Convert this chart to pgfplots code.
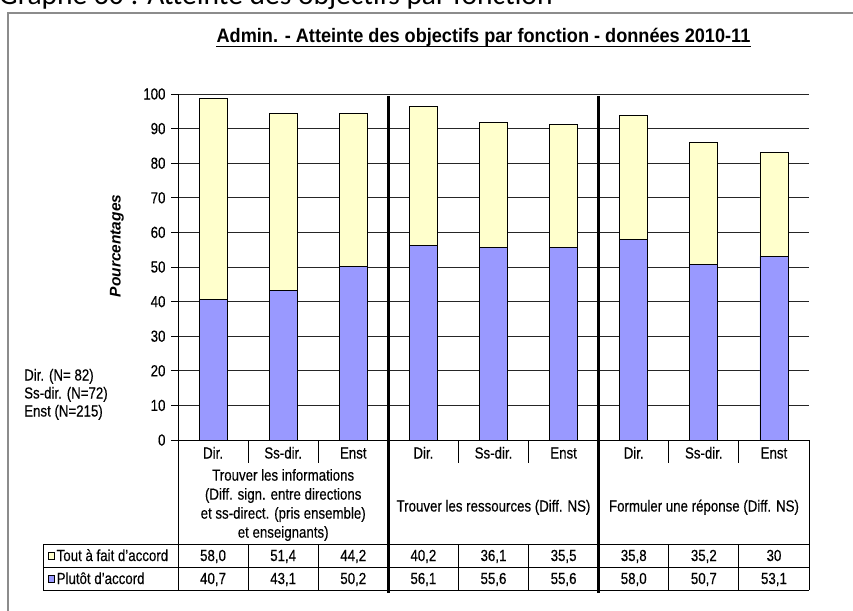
\documentclass[border=0pt]{standalone}
\usepackage{pgfplots}
\usepackage{pgfplotstable}
\pgfplotsset{compat=1.18}
\usepackage{fontspec}
\setmainfont[FakeStretch=0.83,FakeBold=0.35]{Liberation Sans}
\newfontfamily\titlefont[FakeStretch=0.93]{Liberation Sans}
\newfontfamily\plainarial{Liberation Sans}
\newfontfamily\grfont{Carlito}
\definecolor{blueb}{HTML}{9999FF}
\definecolor{yellowb}{HTML}{FFFFCC}
\definecolor{framegray}{HTML}{8C8C8C}

\pgfplotstableread{
x pl tf
0 40.7 58.0
1 43.1 51.4
2 50.2 44.2
3 56.1 40.2
4 55.6 36.1
5 55.6 35.5
6 58.0 35.8
7 50.7 35.2
8 53.1 30
}\datatable

\begin{document}
\fontsize{16pt}{19pt}\selectfont
\begin{tikzpicture}
\path[use as bounding box, clip] (0pt,0pt) rectangle (853pt,-610pt);
\begin{scope}[x=1pt,y=1pt]
  \node[anchor=base west, inner sep=0] at (-1,-5) {\grfont\fontsize{29.5pt}{32pt}\selectfont Graphe 30 : Atteinte des objectifs par fonction};
  \draw[framegray, line width=1.2pt] (8,-700) -- (8,-13) -- (900,-13);
  \node[anchor=base, inner sep=0] (T) at (483.5,-43) {\titlefont\bfseries\fontsize{19.5pt}{22pt}\selectfont Admin. - Atteinte des objectifs par fonction - données 2010-11};
  \draw[line width=1.6pt] ([yshift=-3.5pt]T.base west) -- ([yshift=-3.5pt]T.base east);
\end{scope}

\begin{axis}[
  at={(178pt,-440pt)}, anchor=south west,
  scale only axis, width=631pt, height=346pt,
  xmin=-0.5, xmax=8.5, ymin=0, ymax=100,
  ybar stacked, bar width=28pt,
  axis x line*=bottom, axis y line*=left,
  xtick=data,
  xticklabels={Dir.,Ss-dir.,Enst,Dir.,Ss-dir.,Enst,Dir.,Ss-dir.,Enst},
  x tick style={draw=none},
  x tick label style={anchor=base, yshift=-11.5pt},
  ytick={0,10,...,100},
  tick align=outside, major tick length=7pt,
  y tick style={black, line width=0.9pt},
  ymajorgrids, grid style={black!85, line width=0.8pt},
  axis line style={black, line width=0.9pt},
  /pgf/number format/assume math mode=true,
  tick label style={font=\fontsize{16pt}{19pt}\selectfont},
  clip=false,
]
\addplot[fill=blueb, draw=black, line width=0.8pt] table[x=x,y=pl] {\datatable};
\addplot[fill=yellowb, draw=black, line width=0.8pt] table[x=x,y=tf] {\datatable};
\end{axis}

\begin{scope}[x=1pt,y=1pt]
  % y label
  \node[rotate=90, inner sep=0] at (117,-246) {\plainarial\bfseries\itshape\fontsize{15.5pt}{18pt}\selectfont Pourcentages};
  % left note
  \node[anchor=base west, inner sep=0] at (24,-380.5) {Dir. (N= 82)};
  \node[anchor=base west, inner sep=0] at (24,-398.5) {Ss-dir. (N=72)};
  \node[anchor=base west, inner sep=0] at (24,-416.5) {Enst (N=215)};
  % table frame
  \draw[line width=0.9pt] (43,-544) -- (809,-544);
  \draw[line width=0.9pt] (43,-567) -- (809,-567);
  \draw[line width=0.9pt] (43,-590) -- (809,-590);
  \draw[line width=0.9pt] (43,-544) -- (43,-590);
  \draw[line width=0.9pt] (178,-440) -- (178,-590);
  \draw[line width=0.9pt] (809,-440) -- (809,-590);
  \foreach \i in {1,2,4,5,7,8} {
    \draw[line width=0.9pt] ({178+70.111*\i},-440) -- ({178+70.111*\i},-463);
    \draw[line width=0.9pt] ({178+70.111*\i},-544) -- ({178+70.111*\i},-590);
  }
  \foreach \i in {3,6} {
    \draw[line width=3pt] ({178+70.111*\i},-96) -- ({178+70.111*\i},-593);
  }
  % group labels
  \node[align=center, inner sep=0, font=\fontsize{16pt}{19pt}\selectfont] at (283.2,-505) {Trouver les informations\\(Diff. sign. entre directions\\et ss-direct. (pris ensemble)\\et enseignants)};
  \node[anchor=base, inner sep=0] at (493.5,-511.5) {Trouver les ressources (Diff. NS)};
  \node[anchor=base, inner sep=0] at (704,-511.5) {Formuler une réponse (Diff. NS)};
  % legend keys
  \filldraw[fill=yellowb, draw=black, line width=0.6pt] (48,-552.3) rectangle (54.6,-558.9);
  \filldraw[fill=blueb, draw=black, line width=0.6pt] (48,-575.3) rectangle (54.6,-581.9);
  \node[anchor=base west, inner sep=0] at (56.5,-561) {Tout à fait d'accord};
  \node[anchor=base west, inner sep=0] at (56.5,-584) {Plutôt d'accord};
  % values
  \foreach \i/\a/\b in {0/{58,0}/{40,7},1/{51,4}/{43,1},2/{44,2}/{50,2},3/{40,2}/{56,1},4/{36,1}/{55,6},5/{35,5}/{55,6},6/{35,8}/{58,0},7/{35,2}/{50,7},8/{30}/{53,1}} {
    \node[anchor=base, inner sep=0] at ({178+70.111*(\i+0.5)},-561) {\a};
    \node[anchor=base, inner sep=0] at ({178+70.111*(\i+0.5)},-584) {\b};
  }
\end{scope}
\end{tikzpicture}
\end{document}
